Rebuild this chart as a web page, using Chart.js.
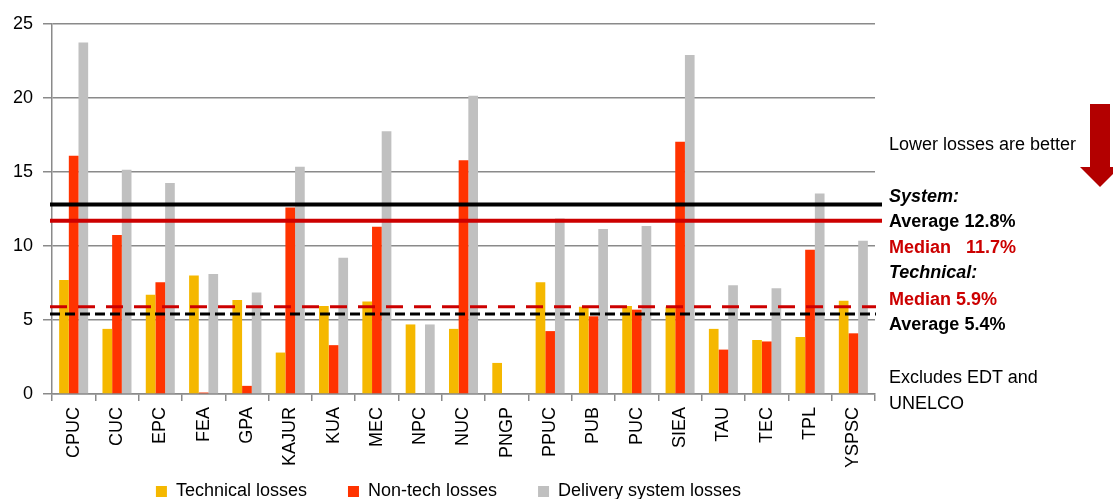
<!DOCTYPE html>
<html>
<head>
<meta charset="utf-8">
<title>Pérdidas de distribución</title>
<script src="https://cdn.jsdelivr.net/npm/chart.js@4.4.1/dist/chart.umd.min.js"></script>
<style>
  html, body { margin:0; padding:0; background:#fff; overflow:hidden; }
  #wrap { position:relative; width:1113px; height:499px; overflow:hidden; }
  #wrap canvas { position:absolute; left:0; top:0; }
  .nota { position:absolute; left:889px; font-family:'Liberation Sans', Arial, sans-serif;
          font-size:18px; line-height:20px; color:#000; white-space:pre; }
  .b { font-weight:bold; }
  .bi { font-weight:bold; font-style:italic; }
  .rojo { color:#cc0000; }
</style>
</head>
<body>
<div id="wrap">
  <canvas id="chart-perdidas" width="1113" height="543"></canvas>
  <div class="nota" style="top:134px">Lower losses are better</div>
  <div class="nota bi" style="top:186px">System:</div>
  <div class="nota b" style="top:211px">Average 12.8%</div>
  <div class="nota b rojo" style="top:237px">Median   11.7%</div>
  <div class="nota bi" style="top:262px">Technical:</div>
  <div class="nota b rojo" style="top:289px">Median 5.9%</div>
  <div class="nota b" style="top:314px">Average 5.4%</div>
  <div class="nota" style="top:367px">Excludes EDT and</div>
  <div class="nota" style="top:393px">UNELCO</div>
</div>
<script>
// empresas y pérdidas (%)
const empresas = ['CPUC','CUC','EPC','FEA','GPA','KAJUR','KUA','MEC','NPC','NUC','PNGP','PPUC','PUB','PUC','SIEA','TAU','TEC','TPL','YSPSC'];
const perdTecnicas = [7.7, 4.4, 6.7, 8.0, 6.35, 2.8, 5.95, 6.25, 4.7, 4.4, 2.1, 7.55, 5.9, 5.95, 5.9, 4.4, 3.65, 3.85, 6.3];
const perdNoTecnicas = [16.1, 10.75, 7.55, 0.1, 0.55, 12.6, 3.3, 11.3, 0, 15.8, 0, 4.25, 5.25, 5.7, 17.05, 3.0, 3.55, 9.75, 4.1];
const perdSistema = [23.75, 15.15, 14.25, 8.1, 6.85, 15.35, 9.2, 17.75, 4.7, 20.15, 0, 11.85, 11.15, 11.35, 22.9, 7.35, 7.15, 13.55, 10.35];

// promedio / mediana (sistema y técnicas)
const refNombres = ['sistemaProm', 'sistemaMed', 'tecnicaMed', 'tecnicaProm'];
const refValores = [12.8, 11.7, 5.9, 5.4];

const estilosRef = {
  sistemaProm: { color:'#000000', width:4, dash:[],      x2:882 },
  sistemaMed:  { color:'#cc0000', width:4, dash:[],      x2:882 },
  tecnicaMed:  { color:'#cc0000', width:3, dash:[17,11], x2:876 },
  tecnicaProm: { color:'#000000', width:3, dash:[10,5],  x2:876 }
};

const GRIS = '#8a8a8a';
Chart.defaults.font.family = "'Liberation Sans', Arial, sans-serif";

const lineasRef = {
  id: 'lineasRef',
  afterLayout(chart) {
    // la leyenda va un poco a la derecha y pegada abajo
    const lg = chart.legend;
    lg.left += 11; lg.right += 11;
    const dy = 441.5 - lg.top;
    lg.top += dy; lg.bottom += dy;
  },
  afterDatasetsDraw(chart) {
    const { ctx, scales: { y } } = chart;
    ctx.save();
    refNombres.forEach((n, i) => {
      const st = estilosRef[n];
      const py = y.getPixelForValue(refValores[i]);
      ctx.strokeStyle = st.color;
      ctx.lineWidth = st.width;
      ctx.setLineDash(st.dash);
      ctx.beginPath();
      ctx.moveTo(50, py);
      ctx.lineTo(st.x2, py);
      ctx.stroke();
    });
    ctx.restore();
  },
  afterDraw(chart) {
    // flecha "menos es mejor"
    const ctx = chart.ctx;
    ctx.save();
    ctx.fillStyle = '#b30000';
    ctx.fillRect(1090, 104, 20, 64);
    ctx.beginPath();
    ctx.moveTo(1080, 167);
    ctx.lineTo(1120, 167);
    ctx.lineTo(1100, 187);
    ctx.closePath();
    ctx.fill();
    ctx.restore();
  }
};

new Chart(document.getElementById('chart-perdidas'), {
  type: 'bar',
  data: {
    labels: empresas,
    datasets: [
      { label:'Technical losses', data: perdTecnicas,   backgroundColor:'#f5b800' },
      { label:'Non-tech losses',  data: perdNoTecnicas, backgroundColor:'#ff3300' },
      { label:'Delivery system losses', data: perdSistema, backgroundColor:'#c0c0c0' }
    ]
  },
  options: {
    responsive: false,
    animation: false,
    devicePixelRatio: 1,
    categoryPercentage: 0.67,
    barPercentage: 1.0,
    layout: { padding: { left:0, right:238, top:24, bottom:0 } },
    plugins: {
      tooltip: { enabled:false },
      legend: {
        position: 'bottom',
        labels: { boxWidth:11, boxHeight:11, padding:41, color:'#000', font:{ size:18 } }
      }
    },
    scales: {
      x: {
        offset: true,
        grid: { offset:true, drawOnChartArea:false, tickLength:7, color:GRIS, lineWidth:1.5 },
        border: { color:GRIS, width:1.5 },
        ticks: { autoSkip:false, minRotation:90, maxRotation:90, padding:6, color:'#000', font:{ size:18 } },
        afterFit(s) { s.height = 80; }
      },
      y: {
        min: 0, max: 25,
        ticks: { stepSize:5, padding:10, color:'#000', font:{ size:18 } },
        grid: { color:GRIS, lineWidth:1.5, tickLength:9 },
        border: { color:GRIS, width:1.5 },
        afterFit(s) { s.width = 52; }
      }
    }
  },
  plugins: [lineasRef]
});
</script>
</body>
</html>
